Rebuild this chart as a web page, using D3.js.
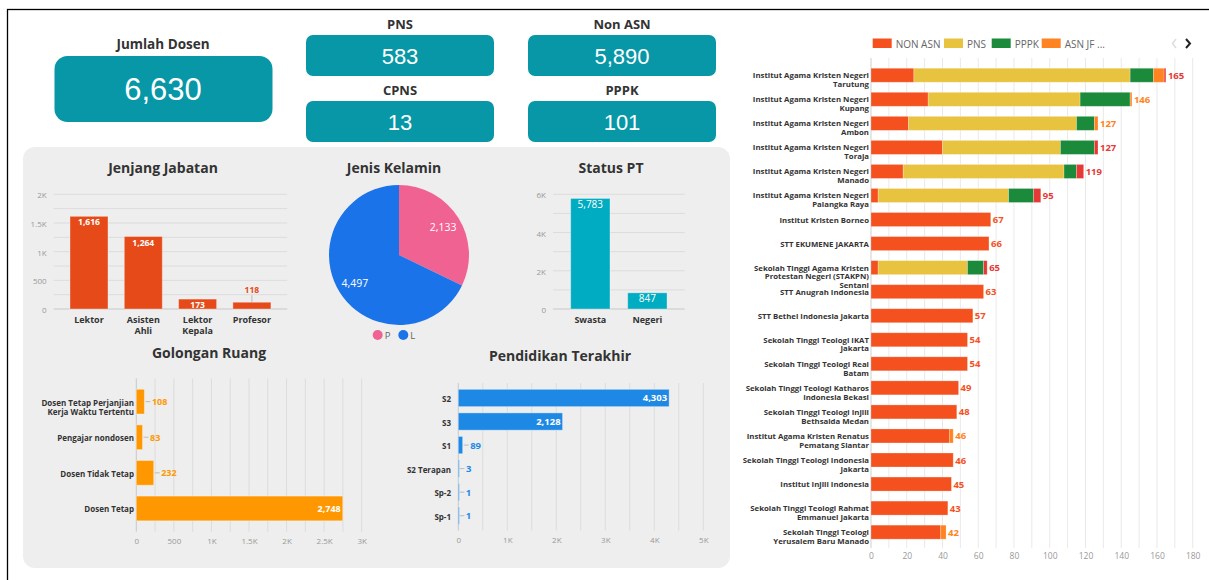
<!DOCTYPE html>
<html>
<head>
<meta charset="utf-8">
<script src="https://cdn.jsdelivr.net/npm/d3@7"></script>
<style>
  body { margin: 0; background: #fff; }
  svg { display: block; font-family: "Open Sans", sans-serif; }
</style>
</head>
<body>
<svg id="dash" width="1209" height="580"></svg>
<script>
// ---- data ----
const totalDosen = 6630;
const kpiLabels = ["PNS", "Non ASN", "CPNS", "PPPK"];
const kpiValues = [583, 5890, 13, 101];

const jabatanCats = ["Lektor", "Asisten\nAhli", "Lektor\nKepala", "Profesor"];
const jabatanVals = [1616, 1264, 173, 118];

const genderCats = ["P", "L"];
const genderVals = [2133, 4497];

const statusCats = ["Swasta", "Negeri"];
const statusVals = [5783, 847];

const golonganCats = ["Dosen Tetap Perjanjian\nKerja Waktu Tertentu", "Pengajar nondosen", "Dosen Tidak Tetap", "Dosen Tetap"];
const golonganVals = [108, 83, 232, 2748];

const pendidikanCats = ["S2", "S3", "S1", "S2 Terapan", "Sp-2", "Sp-1"];
const pendidikanVals = [4303, 2128, 89, 3, 1, 1];

const ptNames = [
  "Institut Agama Kristen Negeri\nTarutung",
  "Institut Agama Kristen Negeri\nKupang",
  "Institut Agama Kristen Negeri\nAmbon",
  "Institut Agama Kristen Negeri\nToraja",
  "Institut Agama Kristen Negeri\nManado",
  "Institut Agama Kristen Negeri\nPalangka Raya",
  "Institut Kristen Borneo",
  "STT EKUMENE JAKARTA",
  "Sekolah Tinggi Agama Kristen\nProtestan Negeri (STAKPN)\nSentani",
  "STT Anugrah Indonesia",
  "STT Bethel Indonesia Jakarta",
  "Sekolah Tinggi Teologi IKAT\nJakarta",
  "Sekolah Tinggi Teologi Real\nBatam",
  "Sekolah Tinggi Teologi Katharos\nIndonesia Bekasi",
  "Sekolah Tinggi Teologi Injili\nBethsaida Medan",
  "Institut Agama Kristen Renatus\nPematang Siantar",
  "Sekolah Tinggi Teologi Indonesia\nJakarta",
  "Institut Injili Indonesia",
  "Sekolah Tinggi Teologi Rahmat\nEmmanuel Jakarta",
  "Sekolah Tinggi Teologi\nYerusalem Baru Manado"
];
const seriesKeys = ["NON ASN", "PNS", "PPPK", "ASN JF", "CPNS"];
const legendLabels = ["NON ASN", "PNS", "PPPK", "ASN JF ..."];
const nonAsn = [24, 32, 21, 40, 18, 4, 67, 66, 4, 63, 57, 54, 54, 49, 48, 44, 46, 45, 43, 39];
const pns    = [121, 85, 94, 66, 90, 73, 0, 0, 50, 0, 0, 0, 0, 0, 0, 0, 0, 0, 0, 0];
const pppk   = [13, 28, 10, 19, 7, 14, 0, 0, 9, 0, 0, 0, 0, 0, 0, 0, 0, 0, 0, 0];
const asnJf  = [6, 1, 2, 0, 0, 0, 0, 0, 0, 0, 0, 0, 0, 0, 0, 2, 0, 0, 0, 3];
const cpns   = [1, 0, 0, 2, 4, 4, 0, 0, 2, 0, 0, 0, 0, 0, 0, 0, 0, 0, 0, 0];

// ---- helpers ----
const svg = d3.select("#dash");
const TXT = "#333";
const GRID = "#dcdcdc";
const TICK = "#999";
const NUMFONT = "'Liberation Sans', Arial, sans-serif";
const fmtComma = d3.format(",");
const fmtK = v => v === 0 ? "0" : v >= 1000 ? (v / 1000) + "K" : String(v);

function title(text, x, y, size) {
  svg.append("text")
    .attr("x", x).attr("y", y)
    .attr("text-anchor", "middle")
    .attr("dominant-baseline", "central")
    .attr("font-size", size || 14)
    .attr("font-weight", 700)
    .attr("fill", TXT)
    .text(text);
}

function multiline(textSel, str, x, lh) {
  str.split("\n").forEach((s, i) => {
    textSel.append("tspan").attr("x", x).attr("dy", i === 0 ? 0 : lh).text(s);
  });
}

function styleAxis(g, size) {
  g.select(".domain").remove();
  g.attr("font-family", null).attr("font-size", null);
  g.selectAll("text")
    .attr("fill", TICK)
    .attr("font-size", size || 8)
    .attr("dy", null)
    .attr("dominant-baseline", "central");
}

// page frame
svg.append("rect")
  .attr("x", 7.5).attr("y", 9.5)
  .attr("width", 1230).attr("height", 600)
  .attr("fill", "#fff").attr("stroke", "#000").attr("stroke-width", 1.3);

// ---- KPI cards ----
const CARD = "#0897a6";
title("Jumlah Dosen", 163, 44, 13.5);
svg.append("rect")
  .attr("x", 54.5).attr("y", 56).attr("width", 218).attr("height", 66)
  .attr("rx", 13).attr("fill", CARD);
svg.append("text")
  .attr("x", 163).attr("y", 89)
  .attr("text-anchor", "middle").attr("dominant-baseline", "central")
  .attr("font-family", NUMFONT).attr("font-size", 31).attr("fill", "#fff")
  .text(fmtComma(totalDosen));

const cardX = [306, 528], cardY = [35, 101];
kpiLabels.forEach((lab, i) => {
  const x = cardX[i % 2], y = cardY[Math.floor(i / 2)];
  title(lab, x + 94, y - 11, 13);
  svg.append("rect")
    .attr("x", x).attr("y", y).attr("width", 188).attr("height", 41)
    .attr("rx", 7).attr("fill", CARD);
  svg.append("text")
    .attr("x", x + 94).attr("y", y + 21.5)
    .attr("text-anchor", "middle").attr("dominant-baseline", "central")
    .attr("font-family", NUMFONT).attr("font-size", 22).attr("fill", "#fff")
    .text(fmtComma(kpiValues[i]));
});

// ---- grey panel ----
svg.append("rect")
  .attr("x", 23).attr("y", 147).attr("width", 707).attr("height", 421)
  .attr("rx", 12).attr("fill", "#eeeeee");

// ---- vertical bar chart helper ----
function vBars(opt) {
  const g = svg.append("g");
  const x = d3.scaleBand().domain(opt.cats).range(opt.xr).padding(opt.pad);
  const y = d3.scaleLinear().domain([0, opt.max]).range(opt.yr);
  g.selectAll(".grid").data(d3.range(0, opt.max + 1, opt.gridStep)).join("line")
    .attr("x1", opt.xr[0]).attr("x2", opt.xr[1])
    .attr("y1", d => y(d)).attr("y2", d => y(d))
    .attr("stroke", d => d === 0 ? "#c8c8c8" : GRID);
  g.append("g")
    .attr("transform", `translate(${opt.xr[0]},0)`)
    .call(d3.axisLeft(y).tickValues(d3.range(0, opt.max + 1, opt.tickStep)).tickFormat(fmtK).tickSize(0).tickPadding(7))
    .call(a => styleAxis(a, 8));
  g.selectAll(".bar").data(opt.vals).join("rect")
    .attr("x", (d, i) => x(opt.cats[i]))
    .attr("width", x.bandwidth())
    .attr("y", d => y(d))
    .attr("height", d => y(0) - y(d))
    .attr("fill", opt.color)
    .attr("stroke", "#fff").attr("stroke-opacity", 0.35);
  opt.vals.forEach((v, i) => {
    const cx = x(opt.cats[i]) + x.bandwidth() / 2;
    const h = y(0) - y(v);
    const inside = h >= 9;
    if (!inside) {
      g.append("line")
        .attr("x1", cx).attr("x2", cx)
        .attr("y1", y(v)).attr("y2", y(v) - 7)
        .attr("stroke", "#bbb");
    }
    g.append("text")
      .attr("x", cx)
      .attr("y", inside ? y(v) + 5.5 : y(v) - 13)
      .attr("text-anchor", "middle").attr("dominant-baseline", "central")
      .attr("font-size", opt.labelSize).attr("font-weight", opt.labelWeight)
      .attr("fill", inside ? "#fff" : opt.color)
      .text(fmtComma(v));
    const t = g.append("text")
      .attr("x", cx).attr("y", 319)
      .attr("text-anchor", "middle").attr("dominant-baseline", "central")
      .attr("font-size", 9).attr("font-weight", 700).attr("fill", TXT);
    multiline(t, opt.cats[i], cx, 10.5);
  });
}

title("Jenjang Jabatan", 163, 167);
vBars({
  cats: jabatanCats, vals: jabatanVals, max: 2000, gridStep: 250, tickStep: 500,
  xr: [53.7, 287.2], yr: [309, 194.3], pad: 0.3, color: "#e64a19",
  labelSize: 8.5, labelWeight: 700
});

title("Status PT", 611, 167);
vBars({
  cats: statusCats, vals: statusVals, max: 6000, gridStep: 1000, tickStep: 2000,
  xr: [553, 684.7], yr: [309, 194.3], pad: 0.31, color: "#00acc1",
  labelSize: 10, labelWeight: 400
});

// ---- pie ----
title("Jenis Kelamin", 394, 167);
const genderColor = d3.scaleOrdinal().domain(genderCats).range(["#f06292", "#1a73e8"]);
const pieG = svg.append("g").attr("transform", "translate(399,255)");
const arcs = d3.pie().sort(null).value(d => d)(genderVals);
const arc = d3.arc().innerRadius(0).outerRadius(70);
const labelArc = d3.arc().innerRadius(52).outerRadius(52);
pieG.selectAll("path").data(arcs).join("path")
  .attr("d", arc)
  .attr("fill", (d, i) => genderColor(genderCats[i]));
pieG.selectAll("text").data(arcs).join("text")
  .attr("transform", d => `translate(${labelArc.centroid(d)})`)
  .attr("text-anchor", "middle").attr("dominant-baseline", "central")
  .attr("font-size", 10.5).attr("fill", "#fff")
  .text(d => fmtComma(d.data));
genderCats.forEach((c, i) => {
  const lx = 377.7 + i * 25.6;
  svg.append("circle").attr("cx", lx).attr("cy", 335).attr("r", 5).attr("fill", genderColor(c));
  svg.append("text").attr("x", lx + 7).attr("y", 335)
    .attr("dominant-baseline", "central").attr("font-size", 9.5).attr("fill", "#666").text(c);
});

// ---- horizontal bar chart helper ----
function hBars(opt) {
  const g = svg.append("g");
  const y = d3.scaleBand().domain(opt.cats).range(opt.yr).padding(opt.pad);
  const x = d3.scaleLinear().domain([0, opt.max]).range(opt.xr);
  g.selectAll(".grid").data(d3.range(0, opt.max + 1, opt.gridStep)).join("line")
    .attr("x1", d => x(d)).attr("x2", d => x(d))
    .attr("y1", opt.yr[0]).attr("y2", opt.yr[1])
    .attr("stroke", d => d === 0 ? "#c8c8c8" : GRID);
  g.append("g")
    .attr("transform", `translate(0,${opt.yr[1]})`)
    .call(d3.axisBottom(x).tickValues(d3.range(0, opt.max + 1, opt.tickStep)).tickFormat(fmtK).tickSize(0).tickPadding(8.5))
    .call(a => styleAxis(a, 8));
  g.selectAll(".bar").data(opt.vals).join("rect")
    .attr("y", (d, i) => y(opt.cats[i]))
    .attr("height", y.bandwidth())
    .attr("x", x(0))
    .attr("width", d => Math.max(1, x(d) - x(0)))
    .attr("fill", opt.color)
    .attr("stroke", "#fff").attr("stroke-opacity", 0.35);
  opt.vals.forEach((v, i) => {
    const cy = y(opt.cats[i]) + y.bandwidth() / 2;
    const w = x(v) - x(0);
    const inside = w > 35;
    if (!inside) {
      g.append("line")
        .attr("x1", x(v) + 1).attr("x2", x(v) + 6)
        .attr("y1", cy).attr("y2", cy)
        .attr("stroke", "#bbb");
    }
    g.append("text")
      .attr("x", inside ? x(v) - 2 : x(v) + 7.5)
      .attr("y", cy)
      .attr("text-anchor", inside ? "end" : "start")
      .attr("dominant-baseline", "central")
      .attr("font-size", opt.labelSize).attr("font-weight", 700)
      .attr("fill", inside ? "#fff" : opt.color)
      .text(fmtComma(v));
    const t = g.append("text")
      .attr("x", opt.labelX).attr("y", cy)
      .attr("text-anchor", "end").attr("dominant-baseline", "central")
      .attr("font-size", 8).attr("font-weight", 700).attr("fill", TXT);
    multiline(t, opt.cats[i], opt.labelX, 9.5);
  });
}

title("Golongan Ruang", 209, 352);
hBars({
  cats: golonganCats, vals: golonganVals, max: 3000, gridStep: 250, tickStep: 500,
  xr: [136.3, 361.7], yr: [378.4, 531.7], pad: 0.306, color: "#ff9800",
  labelSize: 9, labelX: 134
});

title("Pendidikan Terakhir", 560, 355.5);
hBars({
  cats: pendidikanCats, vals: pendidikanVals, max: 5000, gridStep: 500, tickStep: 1000,
  xr: [458.3, 703.3], yr: [383.1, 530.6], pad: 0.265, color: "#1e88e5",
  labelSize: 9.5, labelX: 451
});

// ---- right stacked bar chart ----
const seriesColor = d3.scaleOrdinal().domain(seriesKeys)
  .range(["#f4511e", "#e8c33f", "#1b8a3b", "#ff8320", "#e53935"]);
const ptRows = ptNames.map((n, i) => ({
  name: n, "NON ASN": nonAsn[i], "PNS": pns[i], "PPPK": pppk[i], "ASN JF": asnJf[i], "CPNS": cpns[i]
}));
const stacked = d3.stack().keys(seriesKeys)(ptRows);

const rx = d3.scaleLinear().domain([0, 180]).range([871, 1192.7]);
const ry = d3.scaleBand().domain(ptNames).range([58.2, 549.2]).padding(0.418);
const rG = svg.append("g");

rG.selectAll(".grid").data(d3.range(0, 181, 10)).join("line")
  .attr("x1", d => rx(d)).attr("x2", d => rx(d))
  .attr("y1", 58).attr("y2", 548)
  .attr("stroke", d => d === 0 ? "#cfcfcf" : "#e9e9e9");
rG.append("g")
  .attr("transform", "translate(0,548)")
  .call(d3.axisBottom(rx).tickValues(d3.range(0, 181, 20)).tickSize(0).tickPadding(7.5))
  .call(a => styleAxis(a, 8.5));

rG.append("g").selectAll("g").data(stacked).join("g")
  .attr("fill", d => seriesColor(d.key))
  .selectAll("rect").data(d => d).join("rect")
  .attr("x", d => rx(d[0]))
  .attr("width", d => rx(d[1]) - rx(d[0]))
  .attr("y", d => ry(d.data.name))
  .attr("height", ry.bandwidth())
  .attr("stroke", "#fff").attr("stroke-opacity", 0.3).attr("stroke-width", 0.8);

ptRows.forEach(r => {
  const total = d3.sum(seriesKeys, k => r[k]);
  const lastKey = seriesKeys.filter(k => r[k] > 0).pop();
  const cy = ry(r.name) + ry.bandwidth() / 2;
  rG.append("text")
    .attr("x", rx(total) + 2).attr("y", cy)
    .attr("dominant-baseline", "central")
    .attr("font-size", 9.5).attr("font-weight", 700)
    .attr("fill", seriesColor(lastKey))
    .text(total);
});

svg.append("clipPath").attr("id", "labClip")
  .append("rect").attr("x", 742.5).attr("y", 50).attr("width", 127.5).attr("height", 510);
const labG = svg.append("g").attr("clip-path", "url(#labClip)");
ptNames.forEach(n => {
  const cy = ry(n) + ry.bandwidth() / 2;
  const t = labG.append("text")
    .attr("x", 869).attr("y", cy)
    .attr("text-anchor", "end").attr("dominant-baseline", "central")
    .attr("font-size", 7.8).attr("font-weight", 700).attr("fill", TXT);
  multiline(t, n, 869, 8.7);
});

// legend
const legX = [872.7, 944, 991.7, 1041.7];
legendLabels.forEach((lab, i) => {
  svg.append("rect").attr("x", legX[i]).attr("y", 38.5).attr("width", 19).attr("height", 9.5)
    .attr("fill", seriesColor(seriesKeys[i]));
  svg.append("text").attr("x", legX[i] + 23).attr("y", 43.5)
    .attr("dominant-baseline", "central").attr("font-size", 10).attr("fill", "#666").text(lab);
});
svg.append("path").attr("d", "M1176,39 l-3.5,4.5 l3.5,4.5")
  .attr("fill", "none").attr("stroke", "#ddd").attr("stroke-width", 1.5);
svg.append("path").attr("d", "M1186,39 l4,4.5 l-4,4.5")
  .attr("fill", "none").attr("stroke", "#222").attr("stroke-width", 2);
</script>
</body>
</html>
